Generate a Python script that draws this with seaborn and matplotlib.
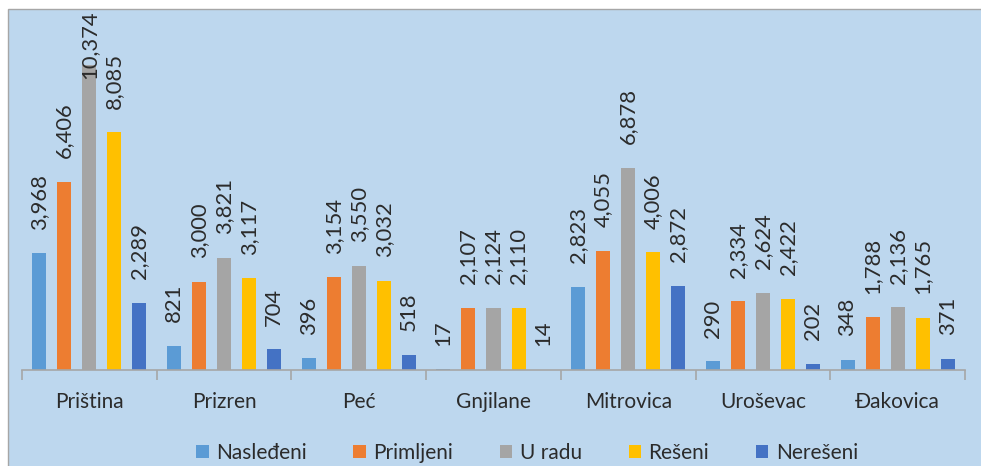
import matplotlib
matplotlib.use("Agg")
import matplotlib.pyplot as plt
import matplotlib.patches as mpatches
import numpy as np
import pandas as pd
import seaborn as sns

# Court regions and case counts by status
regions = ["Priština", "Prizren", "Peć", "Gnjilane", "Mitrovica", "Uroševac", "Đakovica"]
statuses = ["Nasleđeni", "Primljeni", "U radu", "Rešeni", "Nerešeni"]
nasledjeni = [3968, 821, 396, 17, 2823, 290, 348]
primljeni = [6406, 3000, 3154, 2107, 4055, 2334, 1788]
u_radu = [10374, 3821, 3550, 2124, 6878, 2624, 2136]
reseni = [8085, 3117, 3032, 2110, 4006, 2422, 1765]
neresni = [2289, 704, 518, 14, 2872, 202, 371]
colors = ["#5B9BD5", "#ED7D31", "#A5A5A5", "#FFC000", "#4472C4"]

series = [nasledjeni, primljeni, u_radu, reseni, neresni]
df = pd.DataFrame(
    [(r, s, v) for s, vals in zip(statuses, series) for r, v in zip(regions, vals)],
    columns=["region", "status", "count"],
)

sns.set_theme(style="white")
plt.rcParams["font.family"] = ["Lato", "DejaVu Sans"]
text_color = "#2B2B2B"
axis_color = "#A6A6A6"
bg_color = "#BDD7EE"
font_size = 15

fig = plt.figure(figsize=(9.81, 4.66), dpi=100)
fig.patch.set_facecolor("white")
# chart area panel, drawn beneath the axes
panel_top = 1 - 9 / 466
panel = mpatches.Rectangle(
    (8 / 981, -0.01), 1.0, panel_top + 0.01,
    transform=fig.transFigure, facecolor=bg_color, edgecolor=axis_color,
    linewidth=1.0, zorder=-5)
fig.add_artist(panel)

ax = fig.add_axes([22 / 981, 1 - 370 / 466, (965 - 22) / 981, (370 - 17) / 466])
ax.set_facecolor("none")
ax.set_zorder(2)

sns.barplot(data=df, x="region", y="count", hue="status", order=regions,
            hue_order=statuses, palette=colors, saturation=1, width=0.93, gap=0.44,
            linewidth=0, ax=ax, legend=True)

labels_drawn = []
for cont in ax.containers:
    labels_drawn += ax.bar_label(cont, fmt="{:,.0f}", rotation=90, padding=17,
                                 fontsize=15.8, color=text_color)

ax.set_ylim(0, 12000)
ax.set_xlim(-0.5, len(regions) - 0.5)
ax.set_xlabel("")
ax.set_ylabel("")
ax.set_yticks([])
for side in ["top", "left", "right"]:
    ax.spines[side].set_visible(False)
ax.spines["bottom"].set_color(axis_color)
ax.spines["bottom"].set_linewidth(1.2)

ax.set_xticks(np.arange(-0.5, len(regions)), minor=True)
ax.tick_params(axis="x", which="minor", length=7, width=1.2, color=axis_color,
               bottom=True)
ax.tick_params(axis="x", which="major", length=0, pad=16, labelsize=font_size,
               labelcolor=text_color)

handles, labels = ax.get_legend_handles_labels()
ax.get_legend().remove()
fig.legend(handles, labels, loc="center", bbox_to_anchor=(527 / 981, 1 - 453 / 466),
           ncol=5, frameon=False, fontsize=font_size, labelcolor=text_color,
           handlelength=0.6, handleheight=0.6, handletextpad=0.35,
           columnspacing=2.25, borderpad=0)

# pull any value label that would run past the top of the panel back inside it
fig.canvas.draw()
renderer = fig.canvas.get_renderer()
limit_px = fig.bbox.height * panel_top - 1
for txt in labels_drawn:
    top = txt.get_window_extent(renderer).y1
    if top > limit_px:
        ox, oy = txt.xyann
        txt.xyann = (ox, oy - (top - limit_px) * 72 / fig.dpi)

fig.savefig("out.png", dpi=100)
